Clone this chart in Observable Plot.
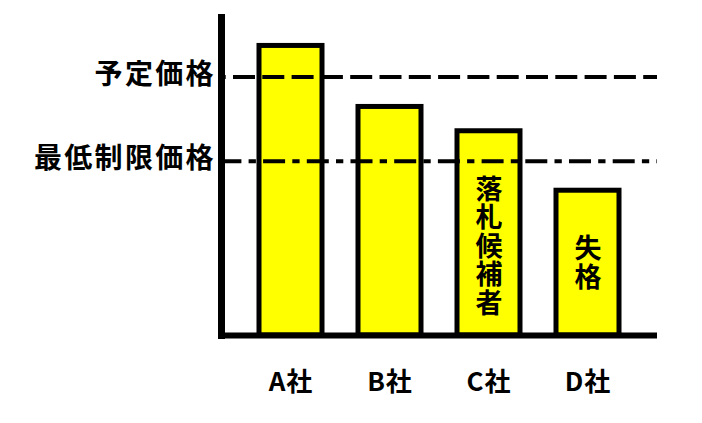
<!DOCTYPE html>
<html>
<head>
<meta charset="utf-8">
<script src="https://cdn.jsdelivr.net/npm/d3@7"></script>
<script src="https://cdn.jsdelivr.net/npm/@observablehq/plot@0.6"></script>
<style>
  html, body { margin: 0; padding: 0; background: #fff; }
  #chart svg { display: block; }
  #chart g.vnote text { writing-mode: vertical-rl; text-orientation: upright; }
</style>
</head>
<body>
<div id="chart"></div>
<script>
// Data
const companies = ["A社", "B社", "C社", "D社"];
const prices = [112, 88.4, 79, 56];
const notes = ["", "", "落札候補者", "失格"];
const refValues = [100, 67.4];
const refLabels = ["予定価格", "最低制限価格"];

const bars = companies.map((c, i) => ({company: c, value: prices[i], note: notes[i]}));

const font = "'Noto Sans CJK JP', 'Noto Sans', sans-serif";

const chart = Plot.plot({
  width: 702,
  height: 423,
  marginLeft: 221,
  marginRight: 45,
  marginTop: 17,
  marginBottom: 88,
  style: {fontFamily: font, background: "#fff"},
  x: {domain: companies, paddingInner: 0, paddingOuter: 0.18, align: 0.5},
  y: {domain: [0, 123]},
  marks: [
    Plot.barY(bars, {x: "company", y: "value", fill: "#ffff00", stroke: "black", strokeWidth: 5, insetLeft: 18, insetRight: 18}),
    Plot.text(bars.filter(d => d.note), {x: "company", y: "value", text: "note", textAnchor: "start", lineAnchor: "middle", dy: 35, fontSize: 27, fontWeight: "bold", fill: "black", className: "vnote"}),
    Plot.ruleY([refValues[0]], {stroke: "black", strokeWidth: 4, strokeDasharray: "22,7.3", strokeDashoffset: 17.3}),
    Plot.ruleY([refValues[1]], {stroke: "black", strokeWidth: 4, strokeDasharray: "22,7.2,7.3,7.2", strokeDashoffset: 1.6}),
    Plot.frame({anchor: "left", stroke: "black", strokeWidth: 7}),
    Plot.ruleY([0], {stroke: "black", strokeWidth: 6}),
    Plot.axisY({ticks: refValues, tickFormat: (d) => refLabels[refValues.indexOf(d)], tickSize: 0, tickPadding: 5.7, fontSize: 28, fontWeight: "bold", dy: -2, label: null}),
    Plot.axisX({tickSize: 0, tickPadding: 37, fontSize: 26, fontWeight: "bold", label: null})
  ]
});
chart.querySelectorAll("text").forEach(t => t.style.fill = "black");
chart.querySelectorAll('g[aria-label="y-axis tick label"] text').forEach(t => t.setAttribute("letter-spacing", "2.3"));
chart.querySelectorAll('g[aria-label="x-axis tick label"] text').forEach(t => t.setAttribute("letter-spacing", "1"));
// vertical notes: one text per bar, written top-to-bottom
let vg = chart.querySelector("g.vnote");
if (!vg) vg = chart.querySelector('g[aria-label="text"]');
if (vg) {
  vg.classList.add("vnote");
  vg.querySelectorAll("text").forEach(t => {
    t.removeAttribute("dy");
    t.style.writingMode = "vertical-rl";
    t.style.textOrientation = "upright";
    t.setAttribute("letter-spacing", "1.5");
  });
}
document.getElementById("chart").append(chart);
</script>
</body>
</html>
